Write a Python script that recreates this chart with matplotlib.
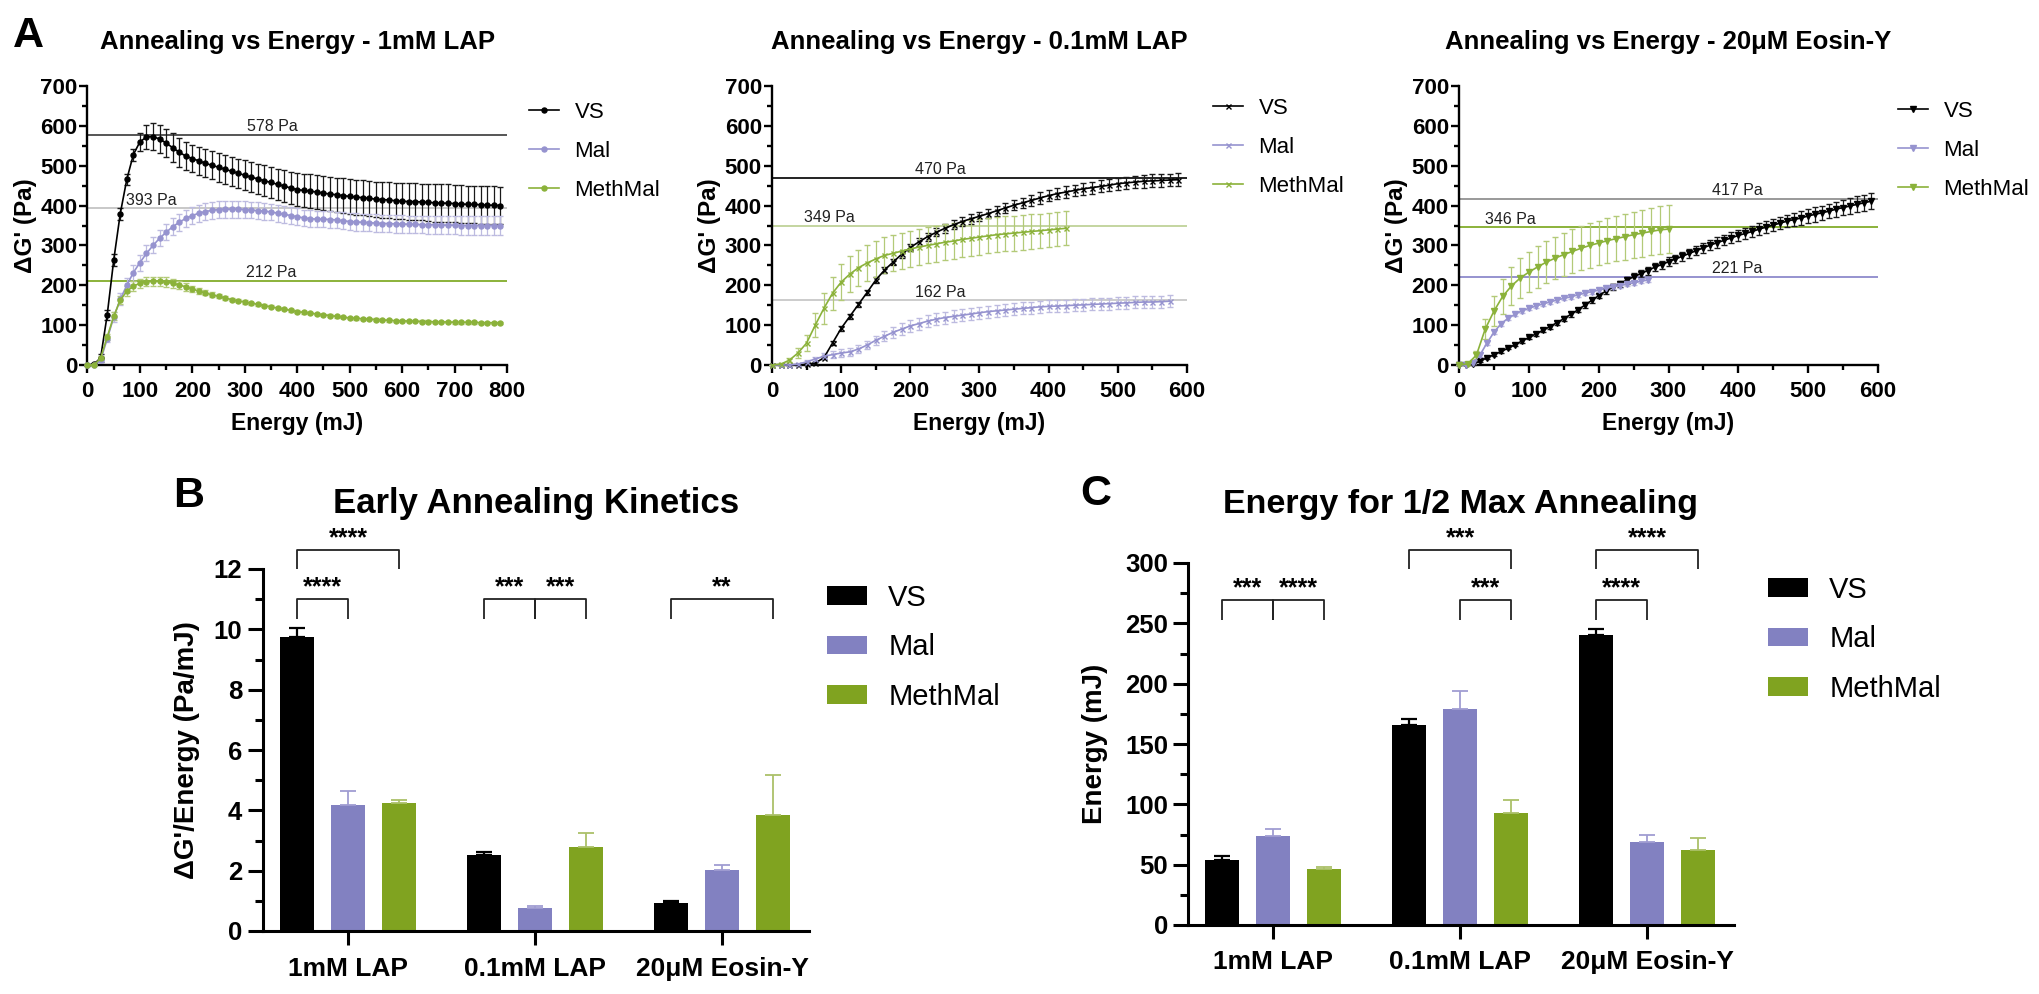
import numpy as np
import matplotlib
matplotlib.use("Agg")
import matplotlib.pyplot as plt
from matplotlib.lines import Line2D
from matplotlib.patches import Patch

plt.rcParams['font.family'] = ['Liberation Sans', 'DejaVu Sans']

W, H = 2040, 994

series = ['VS', 'Mal', 'MethMal']

# ---------------- Panel A: dG' (Pa) vs energy (mJ), mean +/- SD ----------------
# 1mM LAP
lap1_energy = np.arange(0, 800, 12.5)
lap1_vs = [0, 2, 18, 125, 263, 380, 466, 528, 560, 572, 573, 567, 557, 545, 534, 524,
           518, 512, 506, 501, 496, 491, 486, 481, 476, 471, 467, 462, 458, 453, 449, 444,
           440, 438, 436, 434, 431, 429, 427, 425, 423, 421, 420, 418, 416, 415, 414, 412,
           411, 410, 410, 409, 408, 407, 406, 406, 405, 404, 403, 403, 402, 401, 401, 400]
lap1_vs_sd = [0, 2, 10, 12, 15, 15, 14, 15, 22, 30, 33, 35, 36, 36, 36, 35,
              35, 35, 35, 35, 36, 36, 37, 37, 38, 38, 38, 39, 39, 40, 40, 40,
              41, 41, 42, 42, 42, 43, 43, 43, 43, 44, 44, 44, 44, 45, 45, 45,
              45, 46, 46, 46, 46, 47, 47, 47, 47, 47, 47, 47, 47, 47, 47, 47]
lap1_mal = [0, 0, 12, 65, 120, 165, 200, 232, 257, 280, 300, 318, 333, 347, 358, 368,
            375, 381, 385, 388, 390, 391, 391, 391, 390, 389, 387, 386, 384, 381, 378, 375,
            372, 369, 367, 366, 366, 365, 364, 362, 360, 359, 358, 357, 356, 355, 355, 354,
            354, 353, 353, 352, 352, 352, 351, 351, 351, 350, 350, 350, 350, 350, 350, 350]
lap1_mal_sd = [0, 0, 5, 8, 12, 15, 18, 20, 20, 20, 20, 20, 20, 21, 21, 21,
               21, 21, 21, 21, 21, 21, 21, 21, 21, 21, 21, 21, 21, 21, 21, 21,
               21, 21, 21, 21, 21, 21, 21, 21, 22, 22, 22, 22, 22, 22, 22, 22,
               22, 22, 22, 22, 23, 23, 23, 23, 23, 23, 23, 23, 23, 23, 23, 23]
lap1_meth = [0, 0, 17, 70, 122, 163, 185, 198, 205, 209, 210, 210, 208, 205, 201, 196,
             191, 185, 181, 176, 172, 168, 164, 161, 158, 155, 152, 149, 146, 143, 140, 137,
             134, 132, 130, 128, 126, 124, 122, 120, 118, 117, 116, 115, 114, 113, 112, 111,
             111, 110, 110, 109, 109, 108, 108, 108, 107, 107, 107, 107, 106, 106, 106, 106]
lap1_meth_sd = [0, 0, 5, 8, 10, 10, 12, 12, 12, 12, 12, 12, 12, 12, 10, 10,
                8, 8, 6, 6, 5, 5, 4, 4, 4, 4, 4, 4, 4, 3, 3, 3,
                3, 3, 3, 3, 3, 3, 3, 3, 3, 3, 3, 3, 3, 3, 3, 3,
                3, 3, 3, 3, 3, 3, 3, 3, 3, 3, 3, 3, 3, 3, 3, 3]
lap1_plateau = [578, 393, 212]

# 0.1mM LAP
lap01_energy_vs = np.arange(0, 600, 12.5)
lap01_vs = [0, 0, 0, 0, 2, 5, 18, 55, 92, 122, 152, 182, 213, 238, 258, 278,
            295, 309, 322, 333, 343, 352, 360, 367, 373, 380, 387, 394, 401, 407, 413, 419,
            425, 430, 434, 438, 442, 445, 448, 451, 455, 457, 459, 461, 462, 463, 464, 465]
lap01_vs_sd = [0, 0, 0, 0, 2, 3, 4, 5, 6, 6, 7, 7, 8, 8, 8, 9,
               9, 10, 10, 10, 11, 11, 11, 12, 12, 12, 12, 13, 13, 13, 13, 14,
               14, 14, 14, 14, 15, 15, 15, 15, 15, 15, 16, 16, 16, 16, 16, 16]
lap01_energy_mal = np.arange(0, 587.5, 12.5)
lap01_mal = [0, 0, 0, 2, 8, 15, 22, 26, 30, 33, 40, 50, 62, 72, 82, 90,
             98, 104, 110, 115, 119, 122, 125, 128, 131, 134, 136, 138, 140, 142, 144, 146,
             147, 148, 149, 150, 151, 152, 153, 154, 155, 156, 157, 158, 158, 159, 160]
lap01_mal_sd = [0, 0, 0, 2, 4, 6, 8, 9, 10, 10, 10, 11, 12, 13, 14, 15,
                15, 15, 15, 15, 15, 15, 15, 15, 15, 15, 15, 15, 15, 15, 15, 15,
                15, 15, 15, 15, 15, 15, 15, 15, 15, 15, 15, 15, 15, 15, 15]
lap01_energy_meth = np.arange(0, 437.5, 12.5)
lap01_meth = [0, 2, 12, 30, 55, 100, 142, 180, 208, 228, 244, 256, 266, 275, 280, 286,
              291, 296, 300, 304, 308, 311, 315, 318, 321, 324, 327, 329, 331, 333, 335, 337,
              339, 341, 343]
lap01_meth_sd = [0, 2, 5, 12, 20, 30, 38, 42, 45, 45, 45, 45, 45, 45, 45, 45,
                 45, 45, 45, 45, 45, 45, 45, 45, 45, 44, 44, 44, 44, 44, 44, 43,
                 43, 43, 43]
lap01_plateau = [470, 162, 349]

# 20uM Eosin-Y
eos_energy_vs = np.arange(0, 600, 10)
eos_vs = [0, 0, 2, 10, 18, 26, 34, 42, 51, 60, 69, 78, 87, 96, 106, 116,
          127, 138, 150, 162, 174, 185, 195, 204, 213, 221, 229, 237, 245, 252, 259, 266,
          273, 280, 287, 294, 301, 307, 313, 319, 325, 330, 335, 341, 346, 351, 356, 361,
          365, 369, 374, 378, 382, 386, 391, 395, 399, 403, 407, 411]
eos_vs_sd = [0, 0, 1, 2, 2, 3, 3, 3, 4, 4, 4, 5, 5, 5, 5, 6,
             6, 6, 7, 7, 7, 8, 8, 8, 9, 9, 9, 10, 10, 10, 11, 11,
             11, 12, 12, 12, 13, 13, 13, 14, 14, 14, 15, 15, 15, 16, 16, 16,
             17, 17, 17, 18, 18, 18, 19, 19, 19, 20, 20, 20]
eos_energy_mal = np.arange(0, 280, 10)
eos_mal = [0, 0, 5, 25, 55, 82, 103, 117, 127, 136, 142, 148, 153, 158, 163, 167,
           171, 176, 180, 184, 188, 192, 196, 199, 203, 206, 210, 213]
eos_mal_sd = [0, 0, 2, 4, 5, 5, 5, 5, 5, 5, 5, 5, 5, 5, 5, 5,
              5, 5, 5, 5, 5, 5, 5, 5, 5, 5, 5, 5]
eos_energy_meth = np.arange(0, 312.5, 12.5)
eos_meth = [0, 3, 25, 90, 135, 172, 198, 218, 233, 246, 258, 268, 277, 285, 293, 300,
            306, 312, 317, 322, 327, 331, 335, 339, 341]
eos_meth_sd = [0, 2, 10, 25, 38, 45, 48, 50, 50, 52, 52, 53, 54, 55, 55, 56,
               56, 57, 57, 58, 58, 59, 59, 60, 60]
eos_plateau = [417, 346, 221]

# ---------------- Panels B and C: bar charts ----------------
groups = ['1mM LAP', '0.1mM LAP', '20μM Eosin-Y']

kin_vs = [9.75, 2.52, 0.93]
kin_vs_sd = [0.29, 0.10, 0.07]
kin_mal = [4.18, 0.75, 2.02]
kin_mal_sd = [0.46, 0.08, 0.17]
kin_meth = [4.24, 2.78, 3.84]
kin_meth_sd = [0.10, 0.47, 1.33]

half_vs = [53.8, 165.6, 240.0]
half_vs_sd = [3.6, 5.4, 5.4]
half_mal = [74.0, 179.0, 69.0]
half_mal_sd = [5.2, 14.7, 5.5]
half_meth = [46.6, 92.5, 62.0]
half_meth_sd = [1.1, 11.5, 9.8]

# (group, series a, series b, level, stars)
kin_sig = [(0, 0, 2, 'high', '****'), (0, 0, 1, 'low', '****'),
           (1, 0, 1, 'low', '***'), (1, 1, 2, 'low', '***'),
           (2, 0, 2, 'low', '**')]
half_sig = [(0, 0, 1, 'low', '***'), (0, 1, 2, 'low', '****'),
            (1, 0, 2, 'high', '***'), (1, 1, 2, 'low', '***'),
            (2, 0, 2, 'high', '****'), (2, 0, 1, 'low', '****')]

# ---------------- drawing ----------------
fig = plt.figure(figsize=(W / 100, H / 100), dpi=100)


def add_axes_px(left, right, top, bottom):
    return fig.add_axes([left / W, 1 - bottom / H, (right - left) / W, (bottom - top) / H])


def ftext(x, y, s, **kw):
    fig.text(x / W, 1 - y / H, s, **kw)


line_col = {'VS': '#000000', 'Mal': '#9693cf', 'MethMal': '#8bb23a'}
err_col = {'VS': '#1a1a1a', 'Mal': '#bdbbe0', 'MethMal': '#b3ca78'}


def curve_panel(ax, curves, marker, ms, xmax, plateaus, plat_cols, label_x, leg_xy):
    for name, (e, v, sd) in zip(series, curves):
        ax.errorbar(e, v, yerr=sd, color=line_col[name], ecolor=err_col[name],
                    marker=marker, ms=ms, mew=1.0, lw=1.2, elinewidth=0.9,
                    capsize=2.2, capthick=0.9, zorder=3, clip_on=False)
    for val, col, lx in zip(plateaus, plat_cols, label_x):
        ax.axhline(val, color=col, lw=1.4, zorder=1)
        ax.annotate(f'{val} Pa', (lx, val), xytext=(0, 2.5), textcoords='offset points',
                    ha='center', va='baseline', fontsize=11.5, color='#222222')
    ax.set_xlim(0, xmax)
    ax.set_ylim(0, 700)
    xt = np.arange(0, xmax + 1, 100)
    ax.set_xticks(xt)
    ax.set_xticklabels([str(int(v)) for v in xt], fontsize=16, fontweight='bold')
    ax.set_xticks(np.arange(50, xmax, 100), minor=True)
    yt = np.arange(0, 701, 100)
    ax.set_yticks(yt)
    ax.set_yticklabels([str(v) for v in yt], fontsize=16, fontweight='bold')
    ax.set_yticks(np.arange(50, 700, 100), minor=True)
    for s in ['top', 'right']:
        ax.spines[s].set_visible(False)
    for s in ['left', 'bottom']:
        ax.spines[s].set_linewidth(1.7)
    ax.tick_params(which='major', length=5.8, width=1.7)
    ax.tick_params(which='minor', length=3.6, width=1.7)
    ax.tick_params(axis='x', which='major', pad=6)
    ax.tick_params(axis='y', which='major', pad=1.5)
    handles = [Line2D([], [], color=line_col[n], marker=marker, ms=ms, lw=1.2) for n in series]
    ax.legend(handles, series, loc='upper left', bbox_to_anchor=(leg_xy[0] / W, 1 - leg_xy[1] / H),
              bbox_transform=fig.transFigure, frameon=False, fontsize=16, handlelength=1.35,
              handletextpad=0.7, labelspacing=0.8, borderpad=0, borderaxespad=0)


a_boxes = [(87.5, 507), (772, 1187), (1459, 1878)]
a_top, a_bot = 86, 365
a_titles = ['Annealing vs Energy - 1mM LAP', 'Annealing vs Energy - 0.1mM LAP',
            'Annealing vs Energy - 20μM Eosin-Y']

ax1 = add_axes_px(a_boxes[0][0], a_boxes[0][1], a_top, a_bot)
curve_panel(ax1, [(lap1_energy, lap1_vs, lap1_vs_sd), (lap1_energy, lap1_mal, lap1_mal_sd),
                  (lap1_energy, lap1_meth, lap1_meth_sd)],
            'o', 3.6, 800, lap1_plateau, ['#555555', '#c8c8c8', '#8bb23a'], [353, 122, 351],
            (529, 102))

ax2 = add_axes_px(a_boxes[1][0], a_boxes[1][1], a_top, a_bot)
curve_panel(ax2, [(lap01_energy_vs, lap01_vs, lap01_vs_sd), (lap01_energy_mal, lap01_mal, lap01_mal_sd),
                  (lap01_energy_meth, lap01_meth, lap01_meth_sd)],
            'x', 3.6, 600, lap01_plateau, ['#222222', '#cccccc', '#c4d5a0'], [243, 243, 83],
            (1213, 98))

ax3 = add_axes_px(a_boxes[2][0], a_boxes[2][1], a_top, a_bot)
curve_panel(ax3, [(eos_energy_vs, eos_vs, eos_vs_sd), (eos_energy_mal, eos_mal, eos_mal_sd),
                  (eos_energy_meth, eos_meth, eos_meth_sd)],
            'v', 4.0, 600, eos_plateau, ['#999999', '#8bb23a', '#9693cf'], [398, 73, 398],
            (1898, 101))

for (l, r), title in zip(a_boxes, a_titles):
    cx = (l + r) / 2
    ftext(cx, 49, title, ha='center', va='baseline', fontsize=18.5, fontweight='bold')
    ftext(cx, 430, 'Energy (mJ)', ha='center', va='baseline', fontsize=16.5, fontweight='bold')
    ftext(l - 62, (a_top + a_bot) / 2, "ΔG' (Pa)", ha='center', va='center', rotation=90,
          fontsize=17.5, fontweight='bold')

ftext(13, 47, 'A', ha='left', va='baseline', fontsize=31, fontweight='bold')

# ---------------- bar panels ----------------
bar_col = {'VS': '#000000', 'Mal': '#8281c1', 'MethMal': '#80a320'}
bar_err = {'VS': '#000000', 'Mal': '#a09dd2', 'MethMal': '#abc069'}
offsets = [-0.275, 0.0, 0.275]
pos = np.arange(len(groups))


def bar_panel(ax, vals, sds, sig, ymax, major, levels, leg_xy, ypad, xpad):
    for name, off, v, sd in zip(series, offsets, vals, sds):
        ax.bar(pos + off, v, width=0.182, color=bar_col[name], zorder=2)
        ax.errorbar(pos + off, v, yerr=[np.zeros(len(v)), sd], fmt='none',
                    ecolor=bar_err[name], elinewidth=1.6 if name == 'VS' else 1.3,
                    capsize=6, capthick=1.6 if name == 'VS' else 1.3, zorder=3)
    for g, i, j, lev, stars in sig:
        y, leg = levels[lev]
        x1, x2 = g + offsets[i], g + offsets[j]
        ax.plot([x1, x1, x2, x2], [leg, y, y, leg], color='#222222', lw=1.3,
                clip_on=False, solid_capstyle='butt', zorder=4)
        ax.annotate(stars, ((x1 + x2) / 2, y), xytext=(0, 3.5), textcoords='offset points',
                    ha='center', va='baseline', fontsize=18, fontweight='bold',
                    annotation_clip=False)
    ax.set_xlim(-0.4545, 2.465)
    ax.set_ylim(0, ymax)
    ax.set_xticks(pos)
    ax.set_xticklabels(groups, fontsize=19, fontweight='bold')
    yt = np.arange(0, ymax + major / 2, major)
    ax.set_yticks(yt)
    ax.set_yticklabels([f'{v:g}' for v in yt], fontsize=18.5, fontweight='bold')
    ax.set_yticks(np.arange(major / 2, ymax, major), minor=True)
    for s in ['top', 'right']:
        ax.spines[s].set_visible(False)
    for s in ['left', 'bottom']:
        ax.spines[s].set_linewidth(2.2)
    ax.tick_params(axis='y', which='major', length=10.8, width=2.2, pad=ypad)
    ax.tick_params(axis='y', which='minor', length=5.8, width=2.2)
    ax.tick_params(axis='x', which='major', length=10, width=2.2, pad=xpad)
    handles = [Patch(facecolor=bar_col[n], edgecolor='none') for n in series]
    ax.legend(handles, series, loc='upper left', bbox_to_anchor=(leg_xy[0] / W, 1 - leg_xy[1] / H),
              bbox_transform=fig.transFigure, frameon=False, fontsize=21, handlelength=1.38,
              handleheight=0.62, handletextpad=0.72, labelspacing=0.73, borderpad=0,
              borderaxespad=0)


axB = add_axes_px(263, 809, 569, 931)
bar_panel(axB, [kin_vs, kin_mal, kin_meth], [kin_vs_sd, kin_mal_sd, kin_meth_sd], kin_sig,
          12, 2, {'high': (12.63, 12.0), 'low': (10.99, 10.33)}, (827, 584), 4.3, 9)
axC = add_axes_px(1188, 1734, 563, 925)
bar_panel(axC, [half_vs, half_mal, half_meth], [half_vs_sd, half_mal_sd, half_meth_sd], half_sig,
          300, 50, {'high': (310.8, 294.9), 'low': (269.3, 252.7)}, (1768, 576), 3.6, 8)

ftext(536, 513, 'Early Annealing Kinetics', ha='center', va='baseline', fontsize=25,
      fontweight='bold')
ftext(1461, 513, 'Energy for 1/2 Max Annealing', ha='center', va='baseline', fontsize=24.5,
      fontweight='bold')
ftext(187, 750, "ΔG'/Energy (Pa/mJ)", ha='center', va='center', rotation=90, fontsize=20,
      fontweight='bold')
ftext(1095, 744, 'Energy (mJ)', ha='center', va='center', rotation=90, fontsize=20,
      fontweight='bold')
ftext(173, 507, 'B', ha='left', va='baseline', fontsize=31, fontweight='bold')
ftext(1080, 505, 'C', ha='left', va='baseline', fontsize=31, fontweight='bold')

fig.savefig('out.png', dpi=100)
